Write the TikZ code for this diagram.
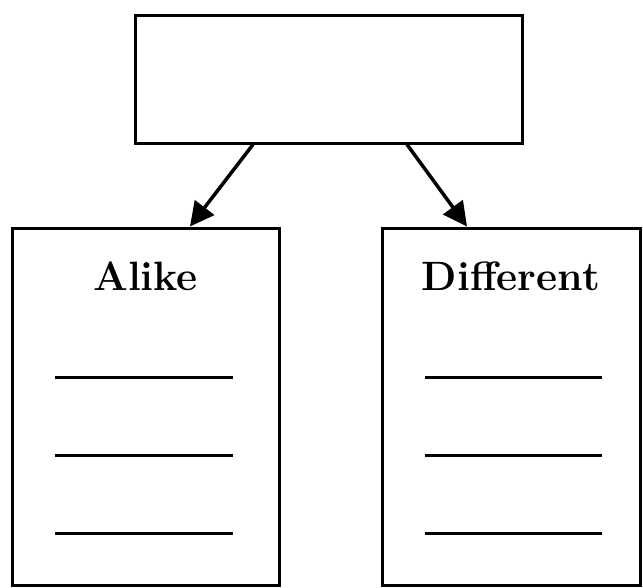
\documentclass[tikz,border=0pt]{standalone}
\usetikzlibrary{arrows.meta}
\begin{document}
\begin{tikzpicture}[x=1pt,y=-1pt,
  box/.style={draw=black,line width=3pt,fill=white,inner sep=0pt},
  conn/.style={line width=3.5pt,-{Triangle[length=24pt,width=24pt]}},
  bar/.style={line width=3pt},
  ttl/.style={font=\fontsize{41}{45}\selectfont\bfseries}]
\useasboundingbox[fill=white] (0,0) rectangle (643,587);
\node[box,minimum width=387pt,minimum height=128pt] (top) at (328.5,79) {};
\node[box,minimum width=267pt,minimum height=357pt] (alike) at (145.5,406.5) {};
\node[box,minimum width=258pt,minimum height=357pt] (diff) at (511,406.5) {};
\node[ttl] (ta) at ([yshift=-50pt]alike.north) {Alike};
\node[ttl] (td) at ([yshift=-50pt]diff.north) {Different};
\draw[conn] ([xshift=-75.5pt]top.south) -- ([xshift=44.5pt]alike.north);
\draw[conn] ([xshift=78.5pt]top.south) -- ([xshift=-44pt]diff.north);
\foreach \dy in {29.5,-48.5,-126.5}{
  \draw[bar] ([xshift=-90.5pt,yshift=\dy pt]alike.center) -- ([xshift=87.5pt,yshift=\dy pt]alike.center);
  \draw[bar] ([xshift=-86pt,yshift=\dy pt]diff.center) -- ([xshift=91pt,yshift=\dy pt]diff.center);
}
\end{tikzpicture}
\end{document}
